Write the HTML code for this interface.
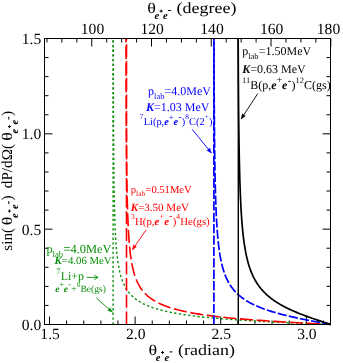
<!DOCTYPE html>
<html><head><meta charset="utf-8"><title>plot</title>
<style>html,body{margin:0;padding:0;background:#fff}svg{display:block;will-change:transform}</style></head>
<body><svg width="343" height="363" viewBox="0 0 343 363" text-rendering="geometricPrecision">
<rect width="343" height="363" fill="#fff"/>
<path d="M44.5,324.50h8M330.5,324.50h-8M44.5,305.43h4M330.5,305.43h-4M44.5,286.37h4M330.5,286.37h-4M44.5,267.30h4M330.5,267.30h-4M44.5,248.23h4M330.5,248.23h-4M44.5,229.17h8M330.5,229.17h-8M44.5,210.10h4M330.5,210.10h-4M44.5,191.03h4M330.5,191.03h-4M44.5,171.96h4M330.5,171.96h-4M44.5,152.90h4M330.5,152.90h-4M44.5,133.83h8M330.5,133.83h-8M44.5,114.76h4M330.5,114.76h-4M44.5,95.70h4M330.5,95.70h-4M44.5,76.63h4M330.5,76.63h-4M44.5,57.56h4M330.5,57.56h-4M44.5,38.50h8M330.5,38.50h-8M49.50,324.5v-8M66.62,324.5v-4M83.74,324.5v-4M100.86,324.5v-4M117.98,324.5v-4M135.10,324.5v-8M152.22,324.5v-4M169.34,324.5v-4M186.46,324.5v-4M203.58,324.5v-4M220.70,324.5v-8M237.82,324.5v-4M254.94,324.5v-4M272.06,324.5v-4M289.18,324.5v-4M306.30,324.5v-8M323.42,324.5v-4M46.94,38.5v4M61.88,38.5v4M76.82,38.5v4M91.76,38.5v8M106.70,38.5v4M121.64,38.5v4M136.58,38.5v4M151.52,38.5v8M166.46,38.5v4M181.40,38.5v4M196.34,38.5v4M211.28,38.5v8M226.22,38.5v4M241.16,38.5v4M256.10,38.5v4M271.04,38.5v8M285.98,38.5v4M300.92,38.5v4M315.86,38.5v4M330.80,38.5v8" stroke="#000" stroke-width="1" fill="none"/>
<path d="M113.1,324.5V38.5" stroke="#0a8f0a" stroke-width="1.4" fill="none" stroke-dasharray="2.3 2.4"/>
<path d="M113.23,38.50 L113.24,44.83 L113.29,67.91 L113.35,88.00 L113.41,105.62 L113.48,121.18 L113.56,134.99 L113.64,147.33 L113.73,158.40 L113.83,168.39 L113.93,177.43 L114.05,185.65 L114.17,193.15 L114.30,200.01 L114.44,206.31 L114.59,212.12 L114.75,217.48 L114.93,222.44 L115.11,227.05 L115.30,231.34 L115.51,235.34 L115.72,239.07 L115.95,242.57 L116.19,245.85 L116.45,248.93 L116.71,251.83 L116.99,254.56 L117.29,257.14 L117.60,259.58 L117.92,261.89 L118.25,264.08 L118.61,266.15 L118.97,268.13 L119.35,270.01 L119.75,271.80 L120.17,273.50 L120.60,275.13 L121.05,276.69 L121.51,278.18 L122.00,279.61 L122.50,280.97 L123.02,282.28 L123.55,283.54 L124.11,284.75 L124.69,285.91 L125.28,287.03 L125.90,288.11 L126.53,289.14 L127.19,290.14 L127.86,291.11 L128.56,292.04 L129.28,292.94 L130.02,293.81 L130.78,294.65 L131.57,295.47 L132.38,296.25 L133.21,297.02 L134.06,297.76 L134.94,298.47 L135.84,299.17 L136.77,299.84 L137.72,300.50 L138.70,301.14 L139.70,301.75 L140.73,302.36 L141.78,302.94 L142.86,303.51 L143.97,304.06 L145.10,304.60 L146.26,305.13 L147.45,305.64 L148.67,306.13 L149.91,306.62 L151.19,307.09 L152.49,307.55 L153.82,308.00 L155.18,308.44 L156.57,308.87 L158.00,309.29 L159.45,309.70 L160.93,310.09 L162.44,310.48 L163.99,310.86 L165.57,311.23 L167.18,311.60 L168.82,311.95 L170.49,312.30 L172.20,312.64 L173.94,312.97 L175.72,313.29 L177.53,313.61 L179.37,313.92 L181.25,314.22 L183.17,314.52 L185.12,314.81 L187.10,315.10 L189.12,315.38 L191.18,315.65 L193.28,315.92 L195.41,316.18 L197.58,316.44 L199.78,316.69 L202.03,316.93 L204.31,317.18 L206.63,317.41 L209.00,317.65 L211.40,317.88 L213.84,318.10 L216.32,318.32 L218.84,318.54 L221.40,318.75 L224.00,318.96 L226.64,319.16 L229.33,319.36 L232.05,319.56 L234.82,319.76 L237.63,319.95 L240.49,320.14 L243.39,320.33 L246.33,320.51 L249.31,320.69 L252.34,320.87 L255.42,321.05 L258.54,321.22 L261.70,321.39 L264.91,321.56 L268.17,321.73 L271.47,321.90 L274.82,322.06 L278.21,322.23 L281.65,322.39 L285.14,322.55 L288.68,322.72 L292.27,322.88 L295.90,323.04 L299.58,323.20 L303.31,323.36 L307.10,323.52 L310.93,323.68 L314.81,323.84 L318.74,324.00 L322.72,324.17 L326.76,324.33 L330.84,324.50" stroke="#0a8f0a" stroke-width="1.4" fill="none" stroke-linejoin="round" stroke-dasharray="2.3 2.4" stroke-dashoffset="3.0"/>
<path d="M126.5,324.5V38.5" stroke="#ff0000" stroke-width="1.6" fill="none" stroke-dasharray="13 3.7"/>
<path d="M126.00,38.50 L126.04,57.18 L126.10,77.09 L126.16,94.66 L126.23,110.27 L126.31,124.21 L126.40,136.72 L126.49,148.00 L126.59,158.21 L126.69,167.49 L126.81,175.96 L126.93,183.71 L127.07,190.83 L127.21,197.38 L127.36,203.44 L127.52,209.04 L127.70,214.24 L127.88,219.08 L128.07,223.59 L128.28,227.81 L128.49,231.75 L128.72,235.45 L128.96,238.93 L129.21,242.20 L129.47,245.28 L129.75,248.19 L130.04,250.94 L130.34,253.55 L130.66,256.01 L130.99,258.36 L131.34,260.58 L131.70,262.70 L132.07,264.72 L132.46,266.64 L132.87,268.48 L133.29,270.23 L133.73,271.91 L134.18,273.51 L134.66,275.05 L135.15,276.53 L135.65,277.95 L136.18,279.31 L136.72,280.61 L137.28,281.87 L137.86,283.08 L138.46,284.25 L139.07,285.38 L139.71,286.46 L140.37,287.51 L141.05,288.52 L141.74,289.50 L142.46,290.45 L143.20,291.36 L143.96,292.25 L144.75,293.11 L145.55,293.94 L146.38,294.75 L147.23,295.53 L148.10,296.29 L149.00,297.03 L149.92,297.74 L150.86,298.44 L151.83,299.12 L152.83,299.77 L153.84,300.41 L154.89,301.04 L155.95,301.64 L157.05,302.24 L158.17,302.81 L159.31,303.37 L160.49,303.92 L161.69,304.45 L162.91,304.97 L164.17,305.48 L165.45,305.98 L166.76,306.46 L168.10,306.93 L169.47,307.39 L170.87,307.84 L172.29,308.28 L173.75,308.71 L175.23,309.13 L176.75,309.54 L178.30,309.95 L179.88,310.34 L181.49,310.72 L183.13,311.10 L184.80,311.47 L186.50,311.83 L188.24,312.18 L190.01,312.53 L191.82,312.87 L193.65,313.20 L195.52,313.53 L197.43,313.84 L199.37,314.16 L201.34,314.46 L203.35,314.76 L205.39,315.06 L207.47,315.35 L209.59,315.63 L211.74,315.91 L213.92,316.18 L216.15,316.45 L218.41,316.72 L220.71,316.97 L223.04,317.23 L225.42,317.48 L227.83,317.73 L230.28,317.97 L232.77,318.21 L235.30,318.44 L237.87,318.67 L240.48,318.90 L243.13,319.12 L245.82,319.34 L248.55,319.56 L251.32,319.78 L254.13,319.99 L256.99,320.20 L259.88,320.40 L262.82,320.61 L265.80,320.81 L268.83,321.01 L271.89,321.21 L275.00,321.41 L278.16,321.60 L281.36,321.80 L284.60,321.99 L287.89,322.18 L291.22,322.38 L294.60,322.57 L298.02,322.76 L301.49,322.95 L305.01,323.14 L308.57,323.33 L312.18,323.52 L315.84,323.71 L319.54,323.91 L323.29,324.10 L327.09,324.30 L330.94,324.50" stroke="#ff0000" stroke-width="1.6" fill="none" stroke-linejoin="round" stroke-dasharray="13 3.7" stroke-dashoffset="9"/>
<path d="M213.9,324.5V38.5" stroke="#0000ff" stroke-width="1.7" fill="none" stroke-dasharray="9.2 2.2"/>
<path d="M213.95,38.50 L213.99,49.37 L214.05,65.22 L214.11,79.62 L214.17,92.75 L214.24,104.77 L214.32,115.80 L214.40,125.95 L214.49,135.32 L214.58,144.00 L214.68,152.05 L214.78,159.53 L214.89,166.51 L215.01,173.02 L215.13,179.11 L215.26,184.83 L215.40,190.19 L215.54,195.23 L215.69,199.98 L215.85,204.46 L216.02,208.70 L216.19,212.70 L216.37,216.50 L216.56,220.10 L216.76,223.51 L216.97,226.76 L217.18,229.86 L217.40,232.80 L217.64,235.61 L217.88,238.30 L218.13,240.87 L218.39,243.32 L218.66,245.67 L218.94,247.92 L219.23,250.08 L219.53,252.16 L219.84,254.15 L220.16,256.07 L220.49,257.91 L220.83,259.69 L221.18,261.40 L221.55,263.05 L221.92,264.64 L222.31,266.17 L222.71,267.66 L223.12,269.09 L223.54,270.48 L223.98,271.83 L224.43,273.13 L224.89,274.39 L225.36,275.61 L225.84,276.80 L226.34,277.95 L226.86,279.07 L227.38,280.15 L227.92,281.21 L228.47,282.24 L229.04,283.24 L229.62,284.21 L230.22,285.16 L230.83,286.08 L231.45,286.98 L232.09,287.85 L232.75,288.71 L233.42,289.54 L234.11,290.36 L234.81,291.15 L235.52,291.93 L236.26,292.69 L237.01,293.43 L237.77,294.16 L238.55,294.87 L239.35,295.57 L240.17,296.25 L241.00,296.92 L241.85,297.57 L242.72,298.21 L243.60,298.84 L244.50,299.46 L245.42,300.06 L246.36,300.66 L247.32,301.24 L248.29,301.81 L249.28,302.38 L250.30,302.93 L251.33,303.47 L252.38,304.01 L253.44,304.53 L254.53,305.05 L255.64,305.56 L256.77,306.06 L257.92,306.56 L259.08,307.05 L260.27,307.53 L261.48,308.00 L262.71,308.47 L263.96,308.93 L265.23,309.38 L266.53,309.83 L267.84,310.27 L269.17,310.71 L270.53,311.15 L271.91,311.57 L273.31,312.00 L274.73,312.42 L276.18,312.83 L277.65,313.24 L279.14,313.65 L280.65,314.06 L282.19,314.46 L283.75,314.85 L285.33,315.25 L286.94,315.64 L288.57,316.03 L290.23,316.42 L291.91,316.80 L293.61,317.19 L295.34,317.57 L297.09,317.95 L298.87,318.33 L300.67,318.71 L302.50,319.09 L304.36,319.47 L306.23,319.84 L308.14,320.22 L310.07,320.60 L312.03,320.98 L314.01,321.36 L316.02,321.74 L318.06,322.13 L320.12,322.52 L322.21,322.91 L324.33,323.30 L326.47,323.69 L328.64,324.10 L330.84,324.50" stroke="#0000ff" stroke-width="1.7" fill="none" stroke-linejoin="round" stroke-dasharray="9.2 2.2" stroke-dashoffset="2.5"/>
<path d="M238.3,324.5V38.5" stroke="#000" stroke-width="1.4" fill="none"/>
<path d="M238.15,38.50 L238.18,43.48 L238.24,57.13 L238.31,69.74 L238.38,81.41 L238.46,92.23 L238.54,102.29 L238.63,111.67 L238.72,120.42 L238.82,128.61 L238.93,136.29 L239.03,143.49 L239.15,150.27 L239.27,156.65 L239.39,162.68 L239.53,168.36 L239.66,173.74 L239.81,178.84 L239.96,183.67 L240.12,188.26 L240.28,192.63 L240.45,196.78 L240.63,200.74 L240.81,204.51 L241.00,208.11 L241.20,211.55 L241.41,214.85 L241.62,218.00 L241.85,221.02 L242.08,223.92 L242.32,226.70 L242.56,229.37 L242.82,231.94 L243.08,234.41 L243.35,236.79 L243.63,239.09 L243.92,241.30 L244.22,243.43 L244.53,245.49 L244.85,247.48 L245.17,249.40 L245.51,251.26 L245.86,253.06 L246.21,254.80 L246.58,256.49 L246.95,258.13 L247.34,259.72 L247.74,261.26 L248.14,262.76 L248.56,264.21 L248.99,265.63 L249.43,267.00 L249.88,268.34 L250.35,269.64 L250.82,270.91 L251.30,272.14 L251.80,273.35 L252.31,274.52 L252.83,275.67 L253.37,276.79 L253.91,277.88 L254.47,278.94 L255.04,279.99 L255.62,281.00 L256.22,282.00 L256.83,282.98 L257.45,283.93 L258.08,284.86 L258.73,285.78 L259.39,286.68 L260.07,287.55 L260.76,288.42 L261.46,289.26 L262.18,290.09 L262.91,290.90 L263.66,291.70 L264.42,292.49 L265.19,293.26 L265.98,294.02 L266.79,294.77 L267.60,295.50 L268.44,296.22 L269.29,296.93 L270.16,297.63 L271.04,298.32 L271.93,299.00 L272.85,299.67 L273.78,300.33 L274.72,300.99 L275.68,301.63 L276.66,302.26 L277.65,302.89 L278.66,303.51 L279.69,304.12 L280.74,304.73 L281.80,305.33 L282.88,305.92 L283.98,306.51 L285.09,307.09 L286.22,307.66 L287.37,308.23 L288.54,308.80 L289.72,309.36 L290.93,309.92 L292.15,310.47 L293.39,311.02 L294.65,311.56 L295.93,312.11 L297.23,312.65 L298.54,313.18 L299.88,313.72 L301.23,314.25 L302.61,314.78 L304.00,315.31 L305.42,315.84 L306.85,316.37 L308.30,316.90 L309.78,317.43 L311.27,317.96 L312.79,318.49 L314.32,319.02 L315.88,319.55 L317.46,320.09 L319.05,320.62 L320.67,321.16 L322.31,321.71 L323.98,322.26 L325.66,322.81 L327.36,323.37 L329.09,323.93 L330.84,324.50" stroke="#000" stroke-width="1.7" fill="none" stroke-linejoin="round" stroke-dashoffset="0"/>
<rect x="44.5" y="38.5" width="286.0" height="286.0" fill="none" stroke="#000" stroke-width="1"/>
<text transform="translate(147.2,13.2) scale(1.22,1)" font-size="14.8" font-family="Liberation Serif, serif">θ</text><text x="154.39999999999998" y="19.299999999999997" font-size="10.5" font-weight="bold" font-style="italic" font-family="Liberation Serif, serif">e</text><text x="163.1" y="19.299999999999997" font-size="10.5" font-weight="bold" font-style="italic" font-family="Liberation Serif, serif">e</text><path d="M159.7,11.1h3M161.2,9.6v3M168.1,10.5h3" stroke="#000" stroke-width="1" fill="none"/>
<text transform="translate(176.6,13.2) scale(1.16,1)" font-size="15.5" font-family="Liberation Serif, serif">(degree)</text>
<text transform="translate(148.6,354.6) scale(1.22,1)" font-size="14.8" font-family="Liberation Serif, serif">θ</text><text x="155.79999999999998" y="360.70000000000005" font-size="10.5" font-weight="bold" font-style="italic" font-family="Liberation Serif, serif">e</text><text x="164.5" y="360.70000000000005" font-size="10.5" font-weight="bold" font-style="italic" font-family="Liberation Serif, serif">e</text><path d="M161.1,352.5h3M162.6,351.0v3M169.5,351.90000000000003h3" stroke="#000" stroke-width="1" fill="none"/>
<text transform="translate(178,354.6) scale(1.16,1)" font-size="15.5" font-family="Liberation Serif, serif">(radian)</text>
<g transform="translate(11.5,250) rotate(-90)">
<text transform="translate(-0.7,0) scale(1,1.0)" font-size="15.2" font-family="Liberation Serif, serif">sin(</text>
<text transform="translate(24.7,0) scale(1.22,1)" font-size="14.8" font-family="Liberation Serif, serif">θ</text><text x="32.019999999999996" y="6.1" font-size="10.5" font-weight="bold" font-style="italic" font-family="Liberation Serif, serif">e</text><text x="40.9" y="6.1" font-size="10.5" font-weight="bold" font-style="italic" font-family="Liberation Serif, serif">e</text><path d="M37.410000000000004,-2.1h3M38.910000000000004,-3.6v3M45.89999999999999,-2.7h3" stroke="#000" stroke-width="1" fill="none"/>
<text transform="translate(49.5,0) scale(1,1.0)" font-size="15.2" font-family="Liberation Serif, serif">)</text>
<text transform="translate(61.8,0) scale(1,1.0)" font-size="15.2" font-family="Liberation Serif, serif">dP/dΩ(</text>
<text transform="translate(109.2,0) scale(1.22,1)" font-size="14.8" font-family="Liberation Serif, serif">θ</text><text x="116.52000000000001" y="6.1" font-size="10.5" font-weight="bold" font-style="italic" font-family="Liberation Serif, serif">e</text><text x="125.4" y="6.1" font-size="10.5" font-weight="bold" font-style="italic" font-family="Liberation Serif, serif">e</text><path d="M121.91,-2.1h3M123.41,-3.6v3M130.4,-2.7h3" stroke="#000" stroke-width="1" fill="none"/>
<text transform="translate(133.9,0) scale(1,1.0)" font-size="15.2" font-family="Liberation Serif, serif">)</text>
</g>
<text x="92.5" y="34.3" font-size="15.6" text-anchor="middle" font-family="Liberation Serif, serif">100</text>
<text x="152.2" y="34.3" font-size="15.6" text-anchor="middle" font-family="Liberation Serif, serif">120</text>
<text x="212.0" y="34.3" font-size="15.6" text-anchor="middle" font-family="Liberation Serif, serif">140</text>
<text x="271.7" y="34.3" font-size="15.6" text-anchor="middle" font-family="Liberation Serif, serif">160</text>
<text x="328.5" y="34.3" font-size="15.6" text-anchor="middle" font-family="Liberation Serif, serif">180</text>
<text x="50.1" y="338.7" font-size="15.6" text-anchor="middle" font-family="Liberation Serif, serif">1.5</text>
<text x="135.7" y="338.7" font-size="15.6" text-anchor="middle" font-family="Liberation Serif, serif">2.0</text>
<text x="221.29999999999998" y="338.7" font-size="15.6" text-anchor="middle" font-family="Liberation Serif, serif">2.5</text>
<text x="306.90000000000003" y="338.7" font-size="15.6" text-anchor="middle" font-family="Liberation Serif, serif">3.0</text>
<text x="41.2" y="329.8" font-size="15.6" text-anchor="end" font-family="Liberation Serif, serif">0.0</text>
<text x="41.2" y="234.5" font-size="15.6" text-anchor="end" font-family="Liberation Serif, serif">0.5</text>
<text x="41.2" y="139.10000000000002" font-size="15.6" text-anchor="end" font-family="Liberation Serif, serif">1.0</text>
<text x="41.2" y="43.8" font-size="15.6" text-anchor="end" font-family="Liberation Serif, serif">1.5</text>
<text x="242.3" y="54.9" font-size="12" fill="#000" font-family="Liberation Serif, serif">p<tspan dy="3.96" font-size="8.40">lab</tspan><tspan dy="-3.96" font-size="1"> </tspan><tspan font-size="12">=1.50MeV</tspan></text>
<text x="242.3" y="73.1" font-size="12" fill="#000" font-family="Liberation Serif, serif"><tspan font-weight="bold" font-style="italic">K</tspan>=0.63 MeV</text>
<text x="242" y="89.3" font-size="12" fill="#000" font-family="Liberation Serif, serif"><tspan dy="-6.24" font-size="8.40">11</tspan><tspan dy="6.24" font-size="1"> </tspan><tspan font-size="12">B(p,</tspan><tspan font-weight="bold" font-style="italic">e</tspan><tspan dy="-6.00" font-size="9.60">+</tspan><tspan dy="6.00" font-weight="bold" font-style="italic">e</tspan><tspan dy="-5.64" font-size="11.40">-</tspan><tspan dy="5.64" font-size="1"> </tspan><tspan font-size="12">)</tspan><tspan dy="-6.24" font-size="8.40">12</tspan><tspan dy="6.24" font-size="1"> </tspan><tspan font-size="12">C(gs)</tspan></text>
<text x="148.1" y="95" font-size="12" fill="#0000ff" font-family="Liberation Serif, serif">p<tspan dy="3.96" font-size="8.40">lab</tspan><tspan dy="-3.96" font-size="1"> </tspan><tspan font-size="12">=4.0MeV</tspan></text>
<text x="146" y="110.7" font-size="12" fill="#0000ff" font-family="Liberation Serif, serif"><tspan font-weight="bold" font-style="italic">K</tspan>=1.03 MeV</text>
<text x="139.8" y="124.7" font-size="10.4" fill="#0000ff" font-family="Liberation Serif, serif"><tspan dy="-5.41" font-size="7.28">7</tspan><tspan dy="5.41" font-size="1"> </tspan><tspan font-size="10.4">Li(p,</tspan><tspan font-weight="bold" font-style="italic">e</tspan><tspan dy="-5.20" font-size="8.32">+</tspan><tspan dy="5.20" font-weight="bold" font-style="italic">e</tspan><tspan dy="-4.89" font-size="9.88">-</tspan><tspan dy="4.89" font-size="1"> </tspan><tspan font-size="10.4">)</tspan><tspan dy="-5.41" font-size="7.28">8</tspan><tspan dy="5.41" font-size="1"> </tspan><tspan font-size="10.4">C(2</tspan><tspan dy="-5.41" font-size="7.28">+</tspan><tspan dy="5.41" font-size="1"> </tspan><tspan font-size="10.4">)</tspan></text>
<text x="130.8" y="192.5" font-size="10.6" fill="#ff0000" font-family="Liberation Serif, serif">p<tspan dy="3.50" font-size="7.42">lab</tspan><tspan dy="-3.50" font-size="1"> </tspan><tspan font-size="10.6">=0.51MeV</tspan></text>
<text x="130.8" y="210.8" font-size="11" fill="#ff0000" font-family="Liberation Serif, serif"><tspan font-weight="bold" font-style="italic">K</tspan>=3.50 MeV</text>
<text x="131" y="224.5" font-size="10.8" fill="#ff0000" font-family="Liberation Serif, serif"><tspan dy="-5.62" font-size="7.56">3</tspan><tspan dy="5.62" font-size="1"> </tspan><tspan font-size="10.8">H(p,</tspan><tspan font-weight="bold" font-style="italic">e</tspan><tspan dy="-5.40" font-size="8.64">+</tspan><tspan dy="5.40" font-weight="bold" font-style="italic">e</tspan><tspan dy="-5.08" font-size="10.26">-</tspan><tspan dy="5.08" font-size="1"> </tspan><tspan font-size="10.8">)</tspan><tspan dy="-5.62" font-size="7.56">4</tspan><tspan dy="5.62" font-size="1"> </tspan><tspan font-size="10.8">He(gs)</tspan></text>
<text x="46.4" y="252.6" font-size="12.4" fill="#0a8f0a" font-family="Liberation Serif, serif">p<tspan dy="4.09" font-size="8.68">lab</tspan><tspan dy="-4.09" font-size="1"> </tspan><tspan font-size="12.4">=4.0MeV</tspan></text>
<text x="54.6" y="264.2" font-size="10.8" fill="#0a8f0a" font-family="Liberation Serif, serif"><tspan font-weight="bold" font-style="italic">K</tspan>=4.06 MeV</text>
<text x="56.2" y="280.2" font-size="12" fill="#0a8f0a" font-family="Liberation Serif, serif"><tspan dy="-6.24" font-size="8.40">7</tspan><tspan dy="6.24" font-size="1"> </tspan><tspan font-size="12">Li+p</tspan></text>
<path d="M86.7,277.4H97.5M94.3,275.2L98.1,277.4L94.3,279.6" stroke="#0a8f0a" stroke-width="0.9" fill="none"/>
<text x="55.2" y="291.6" font-size="9.6" fill="#0a8f0a" font-family="Liberation Serif, serif"><tspan font-weight="bold" font-style="italic">e</tspan><tspan dy="-4.80" font-size="7.68">+</tspan><tspan dy="4.80" font-weight="bold" font-style="italic">e</tspan><tspan dy="-4.51" font-size="9.12">-</tspan><tspan dy="4.51" font-size="1"> </tspan><tspan font-size="9.6">+</tspan><tspan dy="-4.99" font-size="6.72">8</tspan><tspan dy="4.99" font-size="1"> </tspan><tspan font-size="9.6">Be(gs)</tspan></text>
<path d="M257.8,93.5L241.2,118.9" stroke="#000" stroke-width="0.9" fill="none"/><path d="M241.2,118.9L242.24,113.84L245.42,115.92Z" fill="#000" stroke="#000" stroke-width="0.3"/>
<path d="M192.1,129.2L211.4,153" stroke="#0000ff" stroke-width="0.9" fill="none"/><path d="M211.4,153L206.90,150.47L209.85,148.08Z" fill="#0000ff" stroke="#0000ff" stroke-width="0.3"/>
<path d="M146.1,229.9L132.3,249.8" stroke="#ff0000" stroke-width="0.9" fill="none"/><path d="M132.3,249.8L133.47,244.77L136.60,246.94Z" fill="#ff0000" stroke="#ff0000" stroke-width="0.3"/>
<path d="M96.3,298L112.5,312.3" stroke="#0a8f0a" stroke-width="0.9" fill="none"/><path d="M112.5,312.3L107.64,310.55L110.16,307.70Z" fill="#0a8f0a" stroke="#0a8f0a" stroke-width="0.3"/>
</svg></body></html>
